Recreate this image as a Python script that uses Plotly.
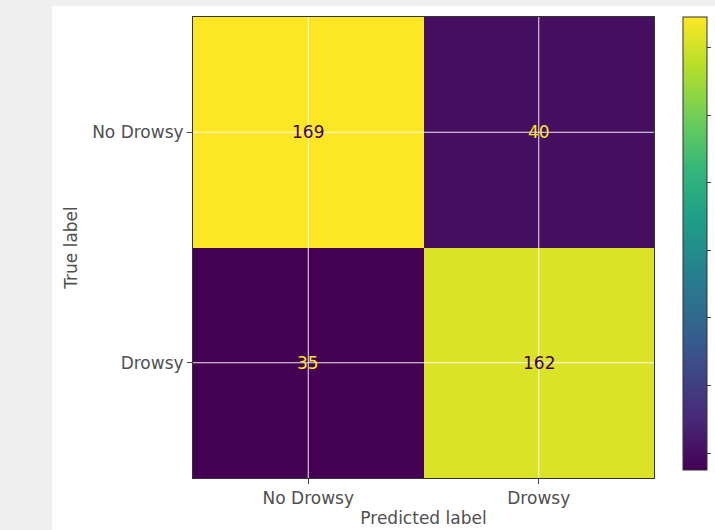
import plotly.graph_objects as go

# Confusion matrix counts (rows = true label, columns = predicted label)
labels = ["No Drowsy", "Drowsy"]
counts = [[169, 40],
          [35, 162]]
cbar_ticks = [40, 60, 80, 100, 120, 140, 160]

W, H = 715, 530
L, R, T, B = 193, 61, 17, 52
pw, ph = W - L - R, H - T - B

zmin = min(min(r) for r in counts)
zmax = max(max(r) for r in counts)
mid = (zmin + zmax) / 2

FONT = "DejaVu Sans"
FS = 17

fig = go.Figure(go.Heatmap(
    z=counts, x=labels, y=labels,
    colorscale="Viridis", zmin=zmin, zmax=zmax,
    colorbar=dict(
        thickness=24, lenmode="pixels", len=453,
        x=(683 - L) / pw, xanchor="left", xpad=0,
        y=1, yanchor="top", ypad=0,
        outlinewidth=1, outlinecolor="#333333",
        tickvals=cbar_ticks, ticks="outside", ticklen=4,
        tickcolor="#444444", showticklabels=False,
    ),
    hoverinfo="skip",
))

# cell value labels, coloured against the cell brightness
for i, row in enumerate(counts):
    for j, v in enumerate(row):
        fig.add_annotation(
            x=labels[j], y=labels[i], text=str(v), showarrow=False,
            font=dict(size=FS, color="#440154" if v > mid else "#fde725", family=FONT),
        )

# grid lines drawn over the heatmap
for k, lab in enumerate(labels):
    fig.add_shape(type="line", xref="x", yref="paper", x0=k, x1=k, y0=0, y1=1,
                  line=dict(color="rgba(255,255,255,0.9)", width=1), layer="above")
    fig.add_shape(type="line", xref="paper", yref="y", x0=0, x1=1, y0=k, y1=k,
                  line=dict(color="rgba(255,255,255,0.9)", width=1), layer="above")

# white figure panel on the grey page
fig.add_shape(type="rect", xref="paper", yref="paper",
              x0=(52 - L) / pw, x1=(W + 20 - L) / pw,
              y0=-(B + 20) / ph, y1=(T + ph - 6) / ph,
              fillcolor="white", line_width=0, layer="below")

axis_common = dict(
    showgrid=False, zeroline=False, showline=True, linecolor="#333333",
    linewidth=1, mirror=True, ticks="outside", ticklen=5, tickcolor="#444444",
    tickfont=dict(size=FS, color="#505050", family=FONT),
)
fig.update_xaxes(**axis_common, title=dict(text="Predicted label", standoff=4,
                 font=dict(size=FS, color="#505050", family=FONT)))
fig.update_yaxes(**axis_common, autorange="reversed",
                 title=dict(text="True label", standoff=10,
                            font=dict(size=FS, color="#505050", family=FONT)))

fig.update_layout(
    width=W, height=H,
    margin=dict(l=L, r=R, t=T, b=B, autoexpand=False),
    paper_bgcolor="#efefef", plot_bgcolor="white",
    font=dict(family=FONT),
    showlegend=False,
)

fig.write_html("out.html")
